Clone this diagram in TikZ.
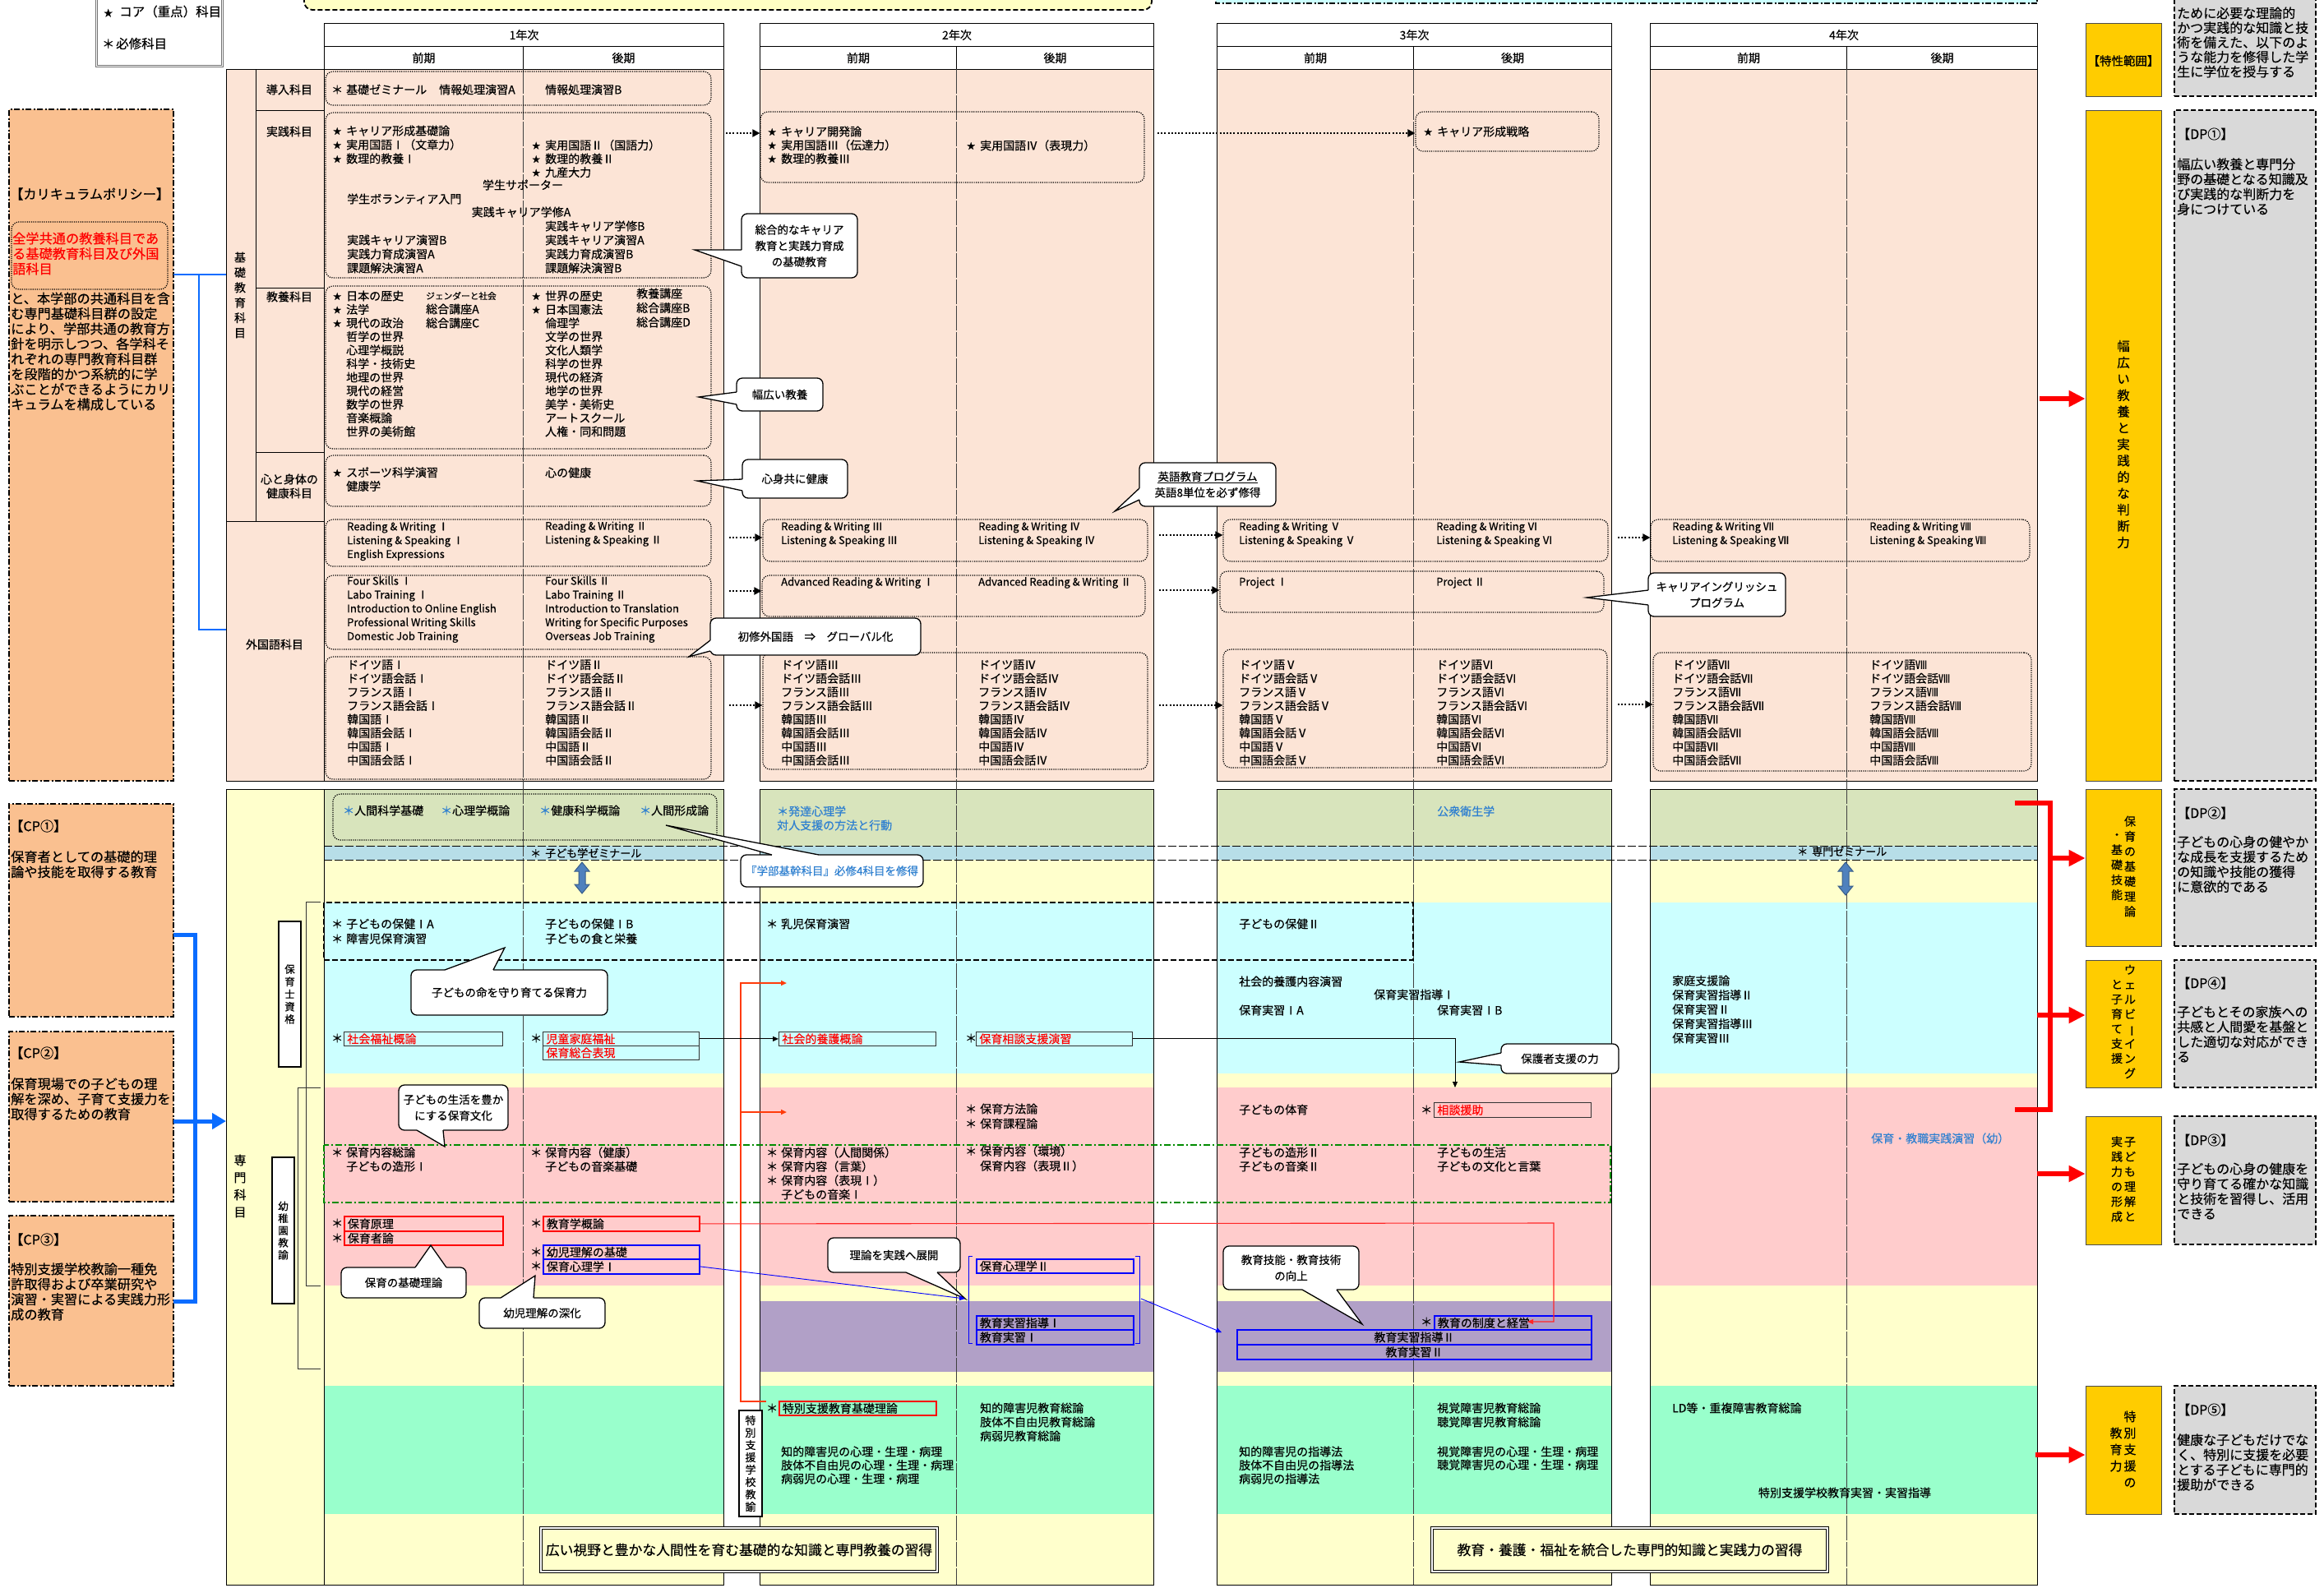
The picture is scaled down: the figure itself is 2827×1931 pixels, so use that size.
\documentclass[tikz,border=0pt]{standalone}
\usepackage{fontspec}
\usepackage{graphicx}
\setmainfont{Noto Sans CJK JP}[FakeBold=0.4]
\usetikzlibrary{arrows.meta,calc}
\definecolor{peach}{HTML}{FCE4D6}
\definecolor{cpor}{HTML}{FAC090}
\definecolor{grn1}{HTML}{D8E4BC}
\definecolor{bband}{HTML}{B7DEE8}
\definecolor{lyel}{HTML}{FFFFCC}
\definecolor{topy}{HTML}{FFFFC4}
\definecolor{cyn}{HTML}{CCFFFF}
\definecolor{pnk}{HTML}{FFCCCC}
\definecolor{purp}{HTML}{B1A0C7}
\definecolor{mint}{HTML}{99FFCC}
\definecolor{dpy}{HTML}{FFCC00}
\definecolor{dpg}{HTML}{D9D9D9}
\definecolor{blt}{HTML}{2F80D0}
\definecolor{cpblue}{HTML}{0A6CFF}
\definecolor{orl}{HTML}{FF3B0A}
\definecolor{arrb}{HTML}{4F81BD}
\definecolor{arrbd}{HTML}{385D8A}
\newcommand\fs[2]{\fontsize{#1}{#2}\selectfont}
\newcommand\hoshi{\makebox[16pt][l]{\raisebox{1pt}{\fs{10}{10}★}}}
\newcommand\kome{\makebox[16pt][l]{\hspace*{-2pt}＊}}
\newcommand\ns{\hspace*{16pt}}
\newcommand\BX[6]{\pgfmathsetmacro\mybw{#5-#3}\pgfmathsetmacro\mybh{#6-#4}\pgfmathsetmacro\mybx{(#3+#5)/2}\pgfmathsetmacro\myby{(#4+#6)/2}\node[#2, minimum width=\mybw pt, minimum height=\mybh pt, inner sep=0pt] (#1) at (\mybx,\myby) {};}
\newcommand\TB[7]{\pgfmathsetmacro\mybw{#5-#3}\pgfmathsetmacro\mybh{#6-#4}\pgfmathsetmacro\mytw{#5-#3-8}\node[#2, anchor=north west, minimum width=\mybw pt, minimum height=\mybh pt, text width=\mytw pt, inner xsep=4pt, inner ysep=0pt] (#1) at (#3,#4) {#7};}
\newcommand\CO[6]{\pgfmathsetmacro\mybw{#4-#2}\pgfmathsetmacro\mybh{#5-#3}\pgfmathsetmacro\mybx{(#2+#4)/2}\pgfmathsetmacro\myby{(#3+#5)/2}\node[cbox, minimum width=\mybw pt, minimum height=\mybh pt] (#1) at (\mybx,\myby) {#6};}
\newcommand\CW[4]{\fill[white] ($#1+#4$) -- #1 -- #3 -- #2 -- ($#2+#4$) -- cycle; \draw[cl] #1 -- #3 -- #2;}
\newcommand\YR[5]{\pgfmathsetmacro\mybw{#4-#2}\pgfmathsetmacro\mybh{#3-#2}\pgfmathsetmacro\myby{#4-#3}%
\node[hdr, anchor=north west, minimum width=\mybw pt, minimum height=28pt] (#1h) at (#2,28) {#5};%
\node[hdr, anchor=north west, minimum width=\mybh pt, minimum height=28pt] (#1a) at (#2,56) {前期};%
\node[hdr, anchor=north west, minimum width=\myby pt, minimum height=28pt] (#1b) at (#3,56) {後期};}
\newcommand\SEN[2]{\fill[grn1] (#1,960) rectangle (#2,1029);\fill[bband] (#1,1029) rectangle (#2,1046);\fill[lyel] (#1,1046) rectangle (#2,1098);\fill[cyn] (#1,1098) rectangle (#2,1306);\fill[lyel] (#1,1306) rectangle (#2,1323);\fill[pnk] (#1,1323) rectangle (#2,1564);\fill[lyel] (#1,1564) rectangle (#2,1686);\fill[mint] (#1,1686) rectangle (#2,1842);\fill[lyel] (#1,1842) rectangle (#2,1928);}
\newcommand\DA[3]{\draw[fill=arrb, draw=arrbd, line width=1pt] (#1,#2) -- ({#1+9},{#2+11}) -- ({#1+4},{#2+11}) -- ({#1+4},{#3-11}) -- ({#1+9},{#3-11}) -- (#1,#3) -- ({#1-9},{#3-11}) -- ({#1-4},{#3-11}) -- ({#1-4},{#2+11}) -- ({#1-9},{#2+11}) -- cycle;}
\begin{document}
\begin{tikzpicture}[x=1pt,y=-1pt,
  T/.style={inner sep=0pt, align=left, anchor=west, font=\fs{14}{16.6}},
  TE/.style={T, font=\fs{13}{16.8}},
  Tc/.style={inner sep=0pt, align=center, font=\fs{14}{16.6}},
  CPT/.style={T, font=\fs{16.2}{18.4}},
  DPT/.style={T, font=\fs{16}{18.2}},
  hdr/.style={draw, line width=1pt, fill=white, inner sep=0pt, font=\fs{14}{16}},
  dbox/.style={draw, line width=1.2pt, dash pattern=on 1.2pt off 1.4pt, rounded corners=9pt},
  cbox/.style={draw, line width=1.3pt, fill=white, rounded corners=7pt, align=center, inner sep=0pt, font=\fs{13.5}{19.5}},
  cl/.style={line width=1.3pt, line join=miter},
  cpbox/.style={draw, fill=cpor, line width=1.5pt, dash pattern=on 7pt off 2.5pt on 2pt off 2.5pt},
  dpgbox/.style={draw, fill=dpg, line width=1.5pt, dash pattern=on 6pt off 3pt},
  dpybox/.style={draw=black!70, fill=dpy, line width=0.8pt},
  vbox/.style={draw, line width=2pt, fill=white, inner sep=0pt, align=center},
  redb/.style={draw=red, line width=1.8pt, font=\fs{14}{16}, align=left},
  blub/.style={draw=blue, line width=1.8pt, font=\fs{14}{16}, align=left},
  thb/.style={draw=black!80, line width=0.8pt, font=\fs{14}{16}, text=red, align=left},
  darr/.style={line width=2pt, dash pattern=on 2pt off 2.2pt, -{Triangle[length=9pt,width=9pt]}},
  rarr/.style={draw=red, line width=5.5pt, -{Triangle[length=20pt,width=19pt]}},
  thin arrow/.style={line width=0.9pt, -{Triangle[length=7pt,width=6pt]}},
  divl/.style={line width=0.9pt, draw=black!75, dash pattern=on 30pt off 2pt},
]
\useasboundingbox (0,0) rectangle (2827,1931);
\clip (0,0) rectangle (2827,1931);
\fill[white] (0,0) rectangle (2827,1931);

% ---------- top boxes and legend
\draw[fill=topy, line width=1.8pt, dash pattern=on 6pt off 3pt, rounded corners=10pt] (370,-40) rectangle (1401,12);
\draw[fill=cyn, line width=1.8pt, dash pattern=on 7pt off 2.5pt on 2pt off 2.5pt] (1479,-40) rectangle (2478,4);
\draw[draw=black!55, line width=3pt, fill=white] (117,-10) rectangle (270,80);
\draw[draw=white, line width=0.8pt] (117,-10) rectangle (270,80);
\node[T, font=\fs{15.5}{18}] (lg1) at (126,14) {{\fs{11}{11}★}\hspace{8pt}コア（重点）科目};
\node[T, font=\fs{15.5}{18}] (lg2) at (124,53) {{\fs{15}{15}＊}\hspace{2pt}必修科目};

% ---------- CP boxes
\BX{cp0}{cpbox}{11}{133}{211}{950}
\BX{cp1}{cpbox}{11}{978}{211}{1237}
\BX{cp2}{cpbox}{11}{1255}{211}{1462}
\BX{cp3}{cpbox}{11}{1479}{211}{1686}
\node[CPT] (cp0t) at (12,236) {【カリキュラムポリシー】};
\BX{cp0r}{dbox, fill=cpor}{14}{270}{204}{352}
\node[CPT, text=red, font=\fs{16.2}{18.5}] (cp0a) at (15,308.5) {全学共通の教養科目であ\\る基礎教育科目及び外国\\語科目};
\node[CPT] (cp0b) at (13,427.5) {と、本学部の共通科目を含\\む専門基礎科目群の設定\\により、学部共通の教育方\\針を明示しつつ、各学科そ\\れぞれの専門教育科目群\\を段階的かつ系統的に学\\ぶことができるようにカリ\\キュラムを構成している};
\node[CPT] (cp1t) at (12,1005) {【CP①】};
\node[CPT] (cp1b) at (13,1051.5) {保育者としての基礎的理\\論や技能を取得する教育};
\node[CPT] (cp2t) at (12,1281) {【CP②】};
\node[CPT] (cp2b) at (13,1337) {保育現場での子どもの理\\解を深め、子育て支援力を\\取得するための教育};
\node[CPT] (cp3t) at (12,1508) {【CP③】};
\node[CPT] (cp3b) at (13,1571.5) {特別支援学校教諭一種免\\許取得および卒業研究や\\演習・実習による実践力形\\成の教育};

% ---------- DP side
\BX{dyt}{dpybox}{2537}{28}{2629}{117}
\node[Tc, font=\fs{14.5}{16}] (dytt) at (2583,74) {【特性範囲】};
\BX{dg0}{dpgbox}{2645}{-40}{2817}{117}
\node[DPT, font=\fs{16}{17.8}] (dg0t) at (2648,51.5) {ために必要な理論的\\かつ実践的な知識と技\\術を備えた、以下のよ\\うな能力を修得した学\\生に学位を授与する};
\BX{dy1}{dpybox}{2537}{134}{2629}{950}
\BX{dy2}{dpybox}{2537}{960}{2629}{1151}
\BX{dy4}{dpybox}{2537}{1168}{2629}{1323}
\BX{dy3}{dpybox}{2537}{1358}{2629}{1514}
\BX{dy5}{dpybox}{2537}{1686}{2629}{1842}
\BX{dg1}{dpgbox}{2645}{134}{2817}{950}
\BX{dg2}{dpgbox}{2645}{960}{2817}{1151}
\BX{dg4}{dpgbox}{2645}{1168}{2817}{1323}
\BX{dg3}{dpgbox}{2645}{1358}{2817}{1514}
\BX{dg5}{dpgbox}{2645}{1686}{2817}{1842}
\node[Tc, font=\fs{15.5}{19.9}] (dy1t) at (2583,540.5) {幅\\広\\い\\教\\養\\と\\実\\践\\的\\な\\判\\断\\力};
\node[Tc, font=\fs{14}{18.3}] (dy2r) at (2591,1054) {保\\育\\の\\基\\礎\\理\\論};
\node[Tc, font=\fs{14}{18.3}] (dy2l) at (2575,1054.5) {・\\基\\礎\\技\\能};
\node[Tc, font=\fs{14}{18}] (dy4r) at (2591,1243) {ウ\\ェ\\ル\\ビ\\\rotatebox[origin=c]{-90}{ー}\\イ\\ン\\グ};
\node[Tc, font=\fs{14}{18}] (dy4l) at (2575,1243) {と\\子\\育\\て\\支\\援};
\node[Tc, font=\fs{14}{18.2}] (dy3r) at (2591,1434.5) {子\\ど\\も\\理\\解\\と};
\node[Tc, font=\fs{14}{18.2}] (dy3l) at (2575,1434.5) {実\\践\\力\\の\\形\\成};
\node[Tc, font=\fs{15}{20}] (dy5r) at (2591,1763) {特\\別\\支\\援\\の};
\node[Tc, font=\fs{15}{20}] (dy5l) at (2574,1763.5) {教\\育\\力};
\node[DPT] (dg1a) at (2648,163) {【DP①】};
\node[DPT] (dg1b) at (2648,227) {幅広い教養と専門分\\野の基礎となる知識及\\び実践的な判断力を\\身につけている};
\node[DPT] (dg2a) at (2648,989) {【DP②】};
\node[DPT] (dg2b) at (2648,1051.5) {子どもの心身の健やか\\な成長を支援するため\\の知識や技能の獲得\\に意欲的である};
\node[DPT] (dg4a) at (2648,1196) {【DP④】};
\node[DPT] (dg4b) at (2648,1258) {子どもとその家族への\\共感と人間愛を基盤と\\した適切な対応ができ\\る};
\node[DPT] (dg3a) at (2648,1387) {【DP③】};
\node[DPT] (dg3b) at (2648,1449) {子どもの心身の健康を\\守り育てる確かな知識\\と技術を習得し、活用\\できる};
\node[DPT] (dg5a) at (2648,1715) {【DP⑤】};
\node[DPT] (dg5b) at (2648,1779) {健康な子どもだけでな\\く、特別に支援を必要\\とする子どもに専門的\\援助ができる};

% ---------- table frames
\draw[fill=peach, line width=1pt] (275,84) rectangle (394,950);
\draw[line width=1pt] (311,84) -- (311,634);
\draw[line width=1pt] (311,134) -- (394,134) (311,350) -- (394,350) (311,550) -- (394,550) (275,634) -- (394,634);
\draw[fill=lyel, line width=1pt] (275,960) rectangle (394,1928);
\foreach \a/\b in {394/880, 924/1403, 1480/1960, 2007/2478}{
  \fill[peach] (\a,84) rectangle (\b,950);
  \SEN{\a}{\b}
}
\fill[purp] (924,1583) rectangle (1403,1669);
\fill[purp] (1480,1583) rectangle (1960,1669);
\foreach \a/\b in {394/880, 924/1403, 1480/1960, 2007/2478}{
  \draw[line width=1pt] (\a,84) rectangle (\b,950);
  \draw[line width=1pt] (\a,960) rectangle (\b,1928);
}
\YR{ya}{394}{636}{880}{1年次}
\YR{yb}{924}{1163}{1403}{2年次}
\YR{yc}{1480}{1719}{1960}{3年次}
\YR{yd}{2007}{2246}{2478}{4年次}
\foreach \d in {636,1163,1719,2246}{\draw[divl] (\d,84) -- (\d,1928);}

% overlays in senmon area
\draw[line width=0.8pt, dash pattern=on 10pt off 3pt] (394,1029) -- (2478,1029) (394,1046) -- (2478,1046);
\draw[line width=1.8pt, dash pattern=on 7pt off 3pt] (394,1098) rectangle (1719,1168);
\draw[draw=green!55!black, line width=1.5pt, dash pattern=on 8pt off 3pt on 2pt off 3pt] (394,1393) rectangle (1959,1463);

% ---------- category labels
\node[Tc, font=\fs{14}{18.4}] (lab0) at (292,359) {基\\礎\\教\\育\\科\\目};
\node[Tc] (lab1) at (352,109) {導入科目};
\node[Tc] (lab2) at (352,160) {実践科目};
\node[Tc] (lab3) at (352,361) {教養科目};
\node[Tc, font=\fs{14}{17}] (lab4) at (352,591.5) {心と身体の\\健康科目};
\node[Tc] (lab5) at (334,784) {外国語科目};
\node[Tc, font=\fs{15}{21}] (lab6) at (292,1443) {専\\門\\科\\目};
\node[vbox, minimum width=27pt, minimum height=177pt, font=\fs{12.5}{15.2}] (hoikushi) at (352.5,1209.5) {保\\育\\士\\資\\格};
\node[vbox, minimum width=27pt, minimum height=178pt, font=\fs{12.5}{14.8}] (youchi) at (344.5,1497) {幼\\稚\\園\\教\\諭};
\draw[line width=0.9pt, draw=black!80] (390,1097) -- (372,1097) -- (372,1564) -- (390,1564);
\draw[line width=0.9pt, draw=black!80] (390,1323) -- (362,1323) -- (362,1665) -- (390,1665);

% ---------- dotted boxes (kiso)
\BX{bx1}{dbox}{396}{87}{865}{128}
\BX{bx2}{dbox}{396}{137}{865}{338}
\BX{bx3}{dbox}{396}{348}{865}{546}
\BX{bx4}{dbox}{396}{554}{865}{616}
\BX{bx5}{dbox}{396}{632}{865}{689}
\BX{bx6}{dbox}{396}{700}{865}{790}
\BX{bx7}{dbox}{396}{799}{865}{948}
\BX{y2prac}{dbox}{925}{136}{1392}{222}
\BX{y2rw}{dbox}{928}{632}{1396}{683}
\BX{y2adv}{dbox}{927}{700}{1393}{750}
\BX{y2lang}{dbox}{928}{794}{1396}{936}
\BX{y3car}{dbox}{1722}{136}{1945}{184}
\BX{y3rw}{dbox}{1488}{632}{1956}{683}
\BX{y3pj}{dbox}{1484}{695}{1951}{745}
\BX{y3lang}{dbox}{1488}{790}{1955}{934}
\BX{y4rw}{dbox}{2008}{632}{2469}{683}
\BX{y4lang}{dbox}{2011}{794}{2471}{938}
\BX{gbx}{dbox}{405}{966}{872}{1022}

% ---------- year 1 kiso
\node[T] (d1) at (405,109) {\kome 基礎ゼミナール};
\node[T] (d2) at (534,109) {情報処理演習A};
\node[T] (d3) at (663,109) {情報処理演習B};
\node[T, font=\fs{14}{17}] (j1) at (405,176) {\hoshi キャリア形成基礎論\\\hoshi 実用国語Ⅰ（文章力）\\\hoshi 数理的教養Ⅰ};
\node[T, font=\fs{14}{16.5}] (j2) at (647,193) {\hoshi 実用国語Ⅱ（国語力）\\\hoshi 数理的教養Ⅱ\\\hoshi 九産大力};
\node[Tc] (j3) at (636,225) {学生サポーター};
\node[T] (j4) at (422,242) {学生ボランティア入門};
\node[Tc] (j5) at (634,258) {実践キャリア学修A};
\node[T, font=\fs{14}{17}] (j6) at (422,309) {実践キャリア演習B\\実践力育成演習A\\課題解決演習A};
\node[T, font=\fs{14}{17}] (j7) at (663,300.5) {実践キャリア学修B\\実践キャリア演習A\\実践力育成演習B\\課題解決演習B};
\node[T, font=\fs{14}{16.5}] (k1) at (405,442.5) {\hoshi 日本の歴史\\\hoshi 法学\\\hoshi 現代の政治\\\ns 哲学の世界\\\ns 心理学概説\\\ns 科学・技術史\\\ns 地理の世界\\\ns 現代の経営\\\ns 数学の世界\\\ns 音楽概論\\\ns 世界の美術館};
\node[T, font=\fs{10.7}{12}] (k2) at (518,360) {ジェンダーと社会};
\node[T, font=\fs{14}{17}] (k3) at (518,384.5) {総合講座A\\総合講座C};
\node[T, font=\fs{14}{16.5}] (k4) at (647,442.5) {\hoshi 世界の歴史\\\hoshi 日本国憲法\\\ns 倫理学\\\ns 文学の世界\\\ns 文化人類学\\\ns 科学の世界\\\ns 現代の経済\\\ns 地学の世界\\\ns 美学・美術史\\\ns アートスクール\\\ns 人権・同和問題};
\node[T, font=\fs{14}{17.5}] (k5) at (774,374.5) {教養講座\\総合講座B\\総合講座D};
\node[T] (m1) at (405,583) {\hoshi スポーツ科学演習\\\ns 健康学};
\node[T] (m2) at (663,575) {心の健康};
\node[TE] (e1) at (422,658.5) {Reading \& Writing Ⅰ\\Listening \& Speaking Ⅰ\\English Expressions};
\node[TE] (e2) at (663,649.5) {Reading \& Writing Ⅱ\\Listening \& Speaking Ⅱ};
\node[TE] (e3) at (422,741.5) {Four Skills Ⅰ\\Labo Training Ⅰ\\Introduction to Online English\\Professional Writing Skills\\Domestic Job Training};
\node[TE] (e4) at (663,741.5) {Four Skills Ⅱ\\Labo Training Ⅱ\\Introduction to Translation\\Writing for Specific Purposes\\Overseas Job Training};
\node[T] (e5) at (422,867) {ドイツ語Ⅰ\\ドイツ語会話Ⅰ\\フランス語Ⅰ\\フランス語会話Ⅰ\\韓国語Ⅰ\\韓国語会話Ⅰ\\中国語Ⅰ\\中国語会話Ⅰ};
\node[T] (e6) at (663,867) {ドイツ語Ⅱ\\ドイツ語会話Ⅱ\\フランス語Ⅱ\\フランス語会話Ⅱ\\韓国語Ⅱ\\韓国語会話Ⅱ\\中国語Ⅱ\\中国語会話Ⅱ};

% ---------- year 2 kiso
\node[T, font=\fs{14}{16.5}] (f1) at (934,176.5) {\hoshi キャリア開発論\\\hoshi 実用国語Ⅲ（伝達力）\\\hoshi 数理的教養Ⅲ};
\node[T] (f2) at (1176,177) {\hoshi 実用国語Ⅳ（表現力）};
\node[TE] (f3) at (950,650) {Reading \& Writing Ⅲ\\Listening \& Speaking Ⅲ};
\node[TE] (f4) at (1190,650) {Reading \& Writing Ⅳ\\Listening \& Speaking Ⅳ};
\node[TE] (f5) at (950,709) {Advanced Reading \& Writing Ⅰ};
\node[TE] (f6) at (1190,709) {Advanced Reading \& Writing Ⅱ};
\node[T] (f7) at (950,867) {ドイツ語Ⅲ\\ドイツ語会話Ⅲ\\フランス語Ⅲ\\フランス語会話Ⅲ\\韓国語Ⅲ\\韓国語会話Ⅲ\\中国語Ⅲ\\中国語会話Ⅲ};
\node[T] (f8) at (1190,867) {ドイツ語Ⅳ\\ドイツ語会話Ⅳ\\フランス語Ⅳ\\フランス語会話Ⅳ\\韓国語Ⅳ\\韓国語会話Ⅳ\\中国語Ⅳ\\中国語会話Ⅳ};

% ---------- year 3 / 4 kiso
\node[T] (g1) at (1732,160) {\hoshi キャリア形成戦略};
\node[TE] (g2) at (1507,650) {Reading \& Writing Ⅴ\\Listening \& Speaking Ⅴ};
\node[TE] (g3) at (1747,650) {Reading \& Writing Ⅵ\\Listening \& Speaking Ⅵ};
\node[TE] (g4) at (1507,709) {Project Ⅰ};
\node[TE] (g5) at (1747,709) {Project Ⅱ};
\node[T] (g6) at (1507,867) {ドイツ語Ⅴ\\ドイツ語会話Ⅴ\\フランス語Ⅴ\\フランス語会話Ⅴ\\韓国語Ⅴ\\韓国語会話Ⅴ\\中国語Ⅴ\\中国語会話Ⅴ};
\node[T] (g7) at (1747,867) {ドイツ語Ⅵ\\ドイツ語会話Ⅵ\\フランス語Ⅵ\\フランス語会話Ⅵ\\韓国語Ⅵ\\韓国語会話Ⅵ\\中国語Ⅵ\\中国語会話Ⅵ};
\node[TE] (h1) at (2034,650) {Reading \& Writing Ⅶ\\Listening \& Speaking Ⅶ};
\node[TE] (h2) at (2274,650) {Reading \& Writing Ⅷ\\Listening \& Speaking Ⅷ};
\node[T] (h3) at (2034,867) {ドイツ語Ⅶ\\ドイツ語会話Ⅶ\\フランス語Ⅶ\\フランス語会話Ⅶ\\韓国語Ⅶ\\韓国語会話Ⅶ\\中国語Ⅶ\\中国語会話Ⅶ};
\node[T] (h4) at (2274,867) {ドイツ語Ⅷ\\ドイツ語会話Ⅷ\\フランス語Ⅷ\\フランス語会話Ⅷ\\韓国語Ⅷ\\韓国語会話Ⅷ\\中国語Ⅷ\\中国語会話Ⅷ};

% ---------- senmon: green row and band
\node[T] (s1) at (417,986) {\textcolor{blt}{＊}人間科学基礎};
\node[T] (s2) at (536,986) {\textcolor{blt}{＊}心理学概論};
\node[T] (s3) at (656,986) {\textcolor{blt}{＊}健康科学概論};
\node[T] (s4) at (778,986) {\textcolor{blt}{＊}人間形成論};
\node[T, text=blt, font=\fs{14}{17}] (s5) at (945,995.5) {＊発達心理学\\対人支援の方法と行動};
\node[T, text=blt] (s6) at (1748,987) {公衆衛生学};
\node[T, font=\fs{13}{15}] (z1) at (647,1038) {\kome 子ども学ゼミナール};
\node[T, font=\fs{13}{15}] (z2) at (2188,1036) {\kome 専門ゼミナール};
\DA{708}{1049}{1087}
\DA{2245}{1049}{1089}

% ---------- cyan
\node[T, font=\fs{14}{18}] (c1) at (405,1133) {\kome 子どもの保健ⅠA\\\kome 障害児保育演習};
\node[T, font=\fs{14}{18}] (c2) at (663,1133) {子どもの保健ⅠB\\子どもの食と栄養};
\node[T] (c3) at (934,1124) {\kome 乳児保育演習};
\node[T] (c4) at (1507,1124) {子どもの保健Ⅱ};
\node[T] (c5) at (405,1263) {\kome};
\TB{c6}{thb}{418}{1255}{611}{1272}{社会福祉概論}
\node[T] (c7) at (647,1263) {\kome};
\TB{c8}{thb}{660}{1255}{850}{1272}{児童家庭福祉}
\TB{c9}{thb}{660}{1272}{850}{1289}{保育総合表現}
\TB{c10}{thb}{947}{1255}{1138}{1272}{社会的養護概論}
\node[T] (c11) at (1176,1263) {\kome};
\TB{c12}{thb}{1187}{1255}{1377}{1272}{保育相談支援演習}
\node[T] (c13) at (1507,1194) {社会的養護内容演習};
\node[T] (c14) at (1671,1210) {保育実習指導Ⅰ};
\node[T] (c15) at (1507,1229) {保育実習ⅠA};
\node[T] (c16) at (1748,1229) {保育実習ⅠB};
\node[T, font=\fs{14}{17.5}] (c17) at (2034,1228) {家庭支援論\\保育実習指導Ⅱ\\保育実習Ⅱ\\保育実習指導Ⅲ\\保育実習Ⅲ};

% ---------- pink / purple
\node[T, font=\fs{14}{17}] (p1) at (405,1410.5) {\kome 保育内容総論\\\ns 子どもの造形Ⅰ};
\node[T, font=\fs{14}{17}] (p2) at (647,1410.5) {\kome 保育内容（健康）\\\ns 子どもの音楽基礎};
\node[T] (p3) at (405,1488) {\kome};
\node[T] (p4) at (405,1506) {\kome};
\TB{p5}{redb}{418}{1479}{611}{1497}{保育原理}
\TB{p6}{redb}{418}{1497}{611}{1514}{保育者論}
\node[T] (p7) at (647,1488) {\kome};
\TB{p8}{redb}{660}{1479}{850}{1497}{教育学概論}
\node[T] (p9) at (647,1523) {\kome};
\node[T] (p10) at (647,1540) {\kome};
\TB{p11}{blub}{660}{1514}{850}{1531}{幼児理解の基礎}
\TB{p12}{blub}{660}{1531}{850}{1549}{保育心理学Ⅰ}
\node[T, font=\fs{14}{18}] (p13) at (1176,1358) {\kome 保育方法論\\\kome 保育課程論};
\node[T, font=\fs{14}{17}] (p14) at (934,1427.5) {\kome 保育内容（人間関係）\\\kome 保育内容（言葉）\\\kome 保育内容（表現Ⅰ）\\\ns 子どもの音楽Ⅰ};
\node[T, font=\fs{14}{18}] (p15) at (1176,1409.5) {\kome 保育内容（環境）\\\ns 保育内容（表現Ⅱ）};
\TB{p16}{blub}{1187}{1531}{1378}{1548}{保育心理学Ⅱ}
\TB{p17}{blub}{1187}{1600}{1378}{1617}{教育実習指導Ⅰ}
\TB{p18}{blub}{1187}{1617}{1378}{1635}{教育実習Ⅰ}
\draw[blue, line width=1pt] (1183,1528) -- (1178,1528) -- (1178,1634) -- (1183,1634);
\draw[blue, line width=1pt] (1381,1528) -- (1386,1528) -- (1386,1634) -- (1381,1634);
\node[T] (p19) at (1507,1350) {子どもの体育};
\node[T] (p20) at (1730,1350) {\kome};
\TB{p21}{thb}{1744}{1341}{1935}{1359}{相談援助}
\node[T, font=\fs{14}{17}] (p22) at (1507,1410.5) {子どもの造形Ⅱ\\子どもの音楽Ⅱ};
\node[T, font=\fs{14}{17}] (p23) at (1748,1410.5) {子どもの生活\\子どもの文化と言葉};
\node[T] (p24) at (1730,1608) {\kome};
\TB{p25}{blub}{1744}{1600}{1935}{1617}{教育の制度と経営}
\TB{p26}{blub, align=center}{1504}{1617}{1935}{1635}{教育実習指導Ⅱ}
\TB{p27}{blub, align=center}{1504}{1635}{1935}{1653}{教育実習Ⅱ}
\node[T, text=blt] (p28) at (2276,1385) {保育・教職実践演習（幼）};

% ---------- mint
\node[vbox, minimum width=28pt, minimum height=129pt, font=\fs{13}{15}] (tk) at (913,1780.5) {特\\別\\支\\援\\学\\校\\教\\諭};
\node[T] (q1) at (934,1713) {\kome};
\TB{q2}{redb}{947}{1704}{1138}{1721}{特別支援教育基礎理論}
\node[T, font=\fs{14}{16.5}] (q3) at (950,1782.5) {知的障害児の心理・生理・病理\\肢体不自由児の心理・生理・病理\\病弱児の心理・生理・病理};
\node[T, font=\fs{14}{17}] (q4) at (1192,1730) {知的障害児教育総論\\肢体不自由児教育総論\\病弱児教育総論};
\node[T, font=\fs{14}{16.5}] (q5) at (1507,1782.5) {知的障害児の指導法\\肢体不自由児の指導法\\病弱児の指導法};
\node[T, font=\fs{14}{17}] (q6) at (1748,1721.5) {視覚障害児教育総論\\聴覚障害児教育総論};
\node[T, font=\fs{14}{16}] (q7) at (1748,1774) {視覚障害児の心理・生理・病理\\聴覚障害児の心理・生理・病理};
\node[T] (q8) at (2034,1713) {LD等・重複障害教育総論};
\node[Tc] (q9) at (2244,1816) {特別支援学校教育実習・実習指導};

% ---------- bottom boxes
\node[draw, double, double distance=1.5pt, line width=0.8pt, fill=lyel, minimum width=482pt, minimum height=53pt, font=\fs{16.8}{18}, inner sep=0pt] (bt1) at (899,1885.5) {広い視野と豊かな人間性を育む基礎的な知識と専門教養の習得};
\node[draw, double, double distance=1.5pt, line width=0.8pt, fill=lyel, minimum width=481pt, minimum height=53pt, font=\fs{16.8}{18}, inner sep=0pt] (bt2) at (1982.5,1885.5) {教育・養護・福祉を統合した専門的知識と実践力の習得};

% ---------- callouts
\CO{co1}{902}{260}{1043}{338}{総合的なキャリア\\教育と実践力育成\\の基礎教育}
\CW{(902,304)}{(902,324)}{(845,304)}{(3,0)}
\CO{co2}{896}{460}{1001}{500}{幅広い教養}
\CW{(896,477)}{(896,492)}{(850,483)}{(3,0)}
\CO{co3}{903}{559}{1031}{606}{心身共に健康}
\CW{(903,583)}{(903,597)}{(848,585)}{(3,0)}
\CO{co4}{1386}{563}{1552}{616}{\underline{英語教育プログラム}\\英語8単位を必ず修得}
\CW{(1386,594)}{(1386,608)}{(1356,622)}{(3,0)}
\CO{co5}{864}{752}{1120}{797}{初修外国語\quad ⇒\quad グローバル化}
\CW{(864,779)}{(864,792)}{(838,799)}{(3,0)}
\CO{co6}{901}{1040}{1123}{1079}{\textcolor{blt}{『学部基幹科目』必修4科目を修得}}
\CW{(939,1040)}{(996,1040)}{(810,1004)}{(0,3)}
\CO{co7}{500}{1180}{739}{1235}{子どもの命を守り育てる保育力}
\CW{(541,1180)}{(600,1180)}{(614,1153)}{(0,3)}
\CO{co8}{1826}{1270}{1969}{1306}{保護者支援の力}
\CW{(1826,1281)}{(1826,1296)}{(1775,1292)}{(3,0)}
\CO{co9}{485}{1320}{618}{1375}{子どもの生活を豊か\\にする保育文化}
\CW{(507,1375)}{(539,1375)}{(541,1395)}{(0,-3)}
\CO{co10}{415}{1542}{567}{1579}{保育の基礎理論}
\CW{(505,1542)}{(543,1542)}{(524,1515)}{(0,3)}
\CO{co11}{583}{1579}{736}{1616}{幼児理解の深化}
\CW{(609,1579)}{(649,1579)}{(651,1552)}{(0,3)}
\CO{co12}{1007}{1506}{1168}{1548}{理論を実践へ展開}
\CW{(1102,1548)}{(1140,1548)}{(1174,1580)}{(0,-3)}
\CO{co13}{1488}{1516}{1653}{1569}{教育技能・教育技術\\の向上}
\CW{(1584,1569)}{(1626,1569)}{(1657,1611)}{(0,-3)}
\CO{co14}{2005}{697}{2172}{750}{キャリアイングリッシュ\\プログラム}
\CW{(2005,718)}{(2005,736)}{(1930,727)}{(3,0)}

% ---------- dotted arrows
\coordinate (da1) at (883,162);  \draw[darr] (da1) -- (da1 -| y2prac.west);
\coordinate (da2) at (1408,162); \draw[darr] (da2) -- (da2 -| y3car.west);
\coordinate (da3) at (887,654);  \draw[darr] (da3) -- (da3 -| y2rw.west);
\coordinate (da4) at (887,719);  \draw[darr] (da4) -- (da4 -| y2adv.west);
\coordinate (da5) at (887,858);  \draw[darr] (da5) -- (da5 -| y2lang.west);
\coordinate (da6) at (1410,651); \draw[darr] (da6) -- (da6 -| y3rw.west);
\coordinate (da7) at (1410,718); \draw[darr] (da7) -- (da7 -| y3pj.west);
\coordinate (da8) at (1410,858); \draw[darr] (da8) -- (da8 -| y3lang.west);
\coordinate (da9) at (1968,654); \draw[darr] (da9) -- (da9 -| y4rw.west);
\coordinate (da10) at (1968,857); \draw[darr] (da10) -- (da10 -| y4lang.west);

% ---------- CP connectors
\coordinate (kb1) at (211,334); \coordinate (kb2) at (275,334); \coordinate (kb3) at (275,766); \coordinate (kb4) at (242,334);
\draw[cpblue, line width=2pt] (kb1) -- (kb2);
\draw[cpblue, line width=2pt] (kb4) |- (kb3);
\coordinate (cc1) at (211,1137); \coordinate (cc1b) at (237,1137); \coordinate (cc3) at (211,1583); \coordinate (cc2) at (211,1364); \coordinate (cc2e) at (275,1364);
\draw[cpblue, line width=5pt] (cc1) -- (cc1b) |- (cc3);
\draw[cpblue, line width=5pt, -{Triangle[length=17pt,width=19pt]}] (cc2) -- (cc2e);

% ---------- red DP arrows
\coordinate (ra1) at (2481,485);  \draw[rarr] (ra1) -- (ra1 -| dy1.west);
\coordinate (rb1) at (2451,977); \coordinate (rbc) at (2494,1350); \coordinate (rb2) at (2451,1350);
\draw[red, line width=5.5pt] (rb1) -| (rbc) -- (rb2);
\coordinate (ra2) at (2494,1044); \draw[rarr] (ra2) -- (ra2 -| dy2.west);
\coordinate (ra4) at (2478,1235); \draw[rarr] (ra4) -- (ra4 -| dy4.west);
\coordinate (ra3) at (2478,1428); \draw[rarr] (ra3) -- (ra3 -| dy3.west);
\coordinate (ra5) at (2476,1770); \draw[rarr] (ra5) -- (ra5 -| dy5.west);

% ---------- inner connectors
\coordinate (o1) at (901,1196); \coordinate (o1e) at (957,1196);
\coordinate (o2) at (901,1353); \coordinate (o2e) at (957,1353);
\coordinate (o3) at (901,1705); \coordinate (o3e) at (932,1705);
\draw[orl, line width=1.8pt, {Triangle[length=7pt,width=6pt]}-] (o1e) -- (o1) -- (o3) -- (o3e);
\draw[orl, line width=1.8pt, -{Triangle[length=7pt,width=6pt]}] (o2) -- (o2e);
\draw[thin arrow] (c8.east) -- (c10.west);
\coordinate (sk) at (1770,1323);
\draw[thin arrow] (c12.east) -| (sk);
\coordinate (rk1) at (1890,1488); \coordinate (rk2) at (1858,1608);
\draw[red!85, line width=1.1pt, -{Triangle[length=7pt,width=6pt]}] (p8.east) -- (rk1) |- (rk2);
\coordinate (bk1) at (1174,1580); \coordinate (bk2) at (1388,1580); \coordinate (bk3) at (1486,1621);
\draw[blue, line width=0.9pt, -{Triangle[length=7pt,width=6pt]}] (p12.east) -- (bk1);
\draw[blue, line width=0.9pt, -{Triangle[length=7pt,width=6pt]}] (bk2) -- (bk3);
\end{tikzpicture}
\end{document}
